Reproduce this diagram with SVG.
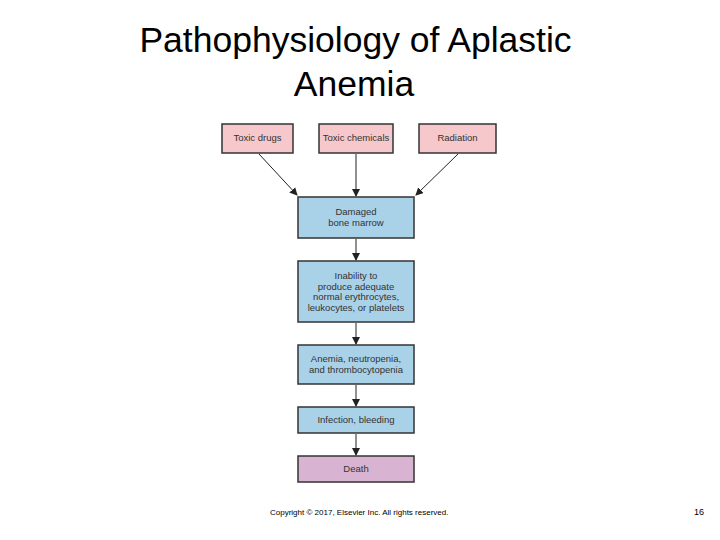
<svg xmlns="http://www.w3.org/2000/svg" width="720" height="540" viewBox="0 0 720 540">
<style>
.t{font-family:"Liberation Sans",Arial,sans-serif;fill:#000}
.title{font-size:35.5px;text-anchor:middle}
.bx{stroke:#333;stroke-width:1.5}
.pink{fill:#f6c8cb}
.blue{fill:#a9d1e8}
.mauve{fill:#d8b4d2}
.lbl{font-family:"Liberation Sans",Arial,sans-serif;font-size:9.5px;fill:#333;text-anchor:middle}
.c{stroke:#222;stroke-width:1;fill:none;marker-end:url(#ah)}
</style>
<defs>
<marker id="ah" markerWidth="8" markerHeight="8" refX="7" refY="4" orient="auto" markerUnits="userSpaceOnUse">
<path d="M0,0 L8,4 L0,8 Z" fill="#222"/>
</marker>
</defs>
<rect width="720" height="540" fill="#fff"/>
<text class="t title" x="355.500" y="52">Pathophysiology of Aplastic</text>
<text class="t title" x="354" y="96">Anemia</text>
<g id="connectors">
<line class="c" x1="259" y1="154" x2="297" y2="195"/>
<line class="c" x1="356" y1="154" x2="356" y2="196"/>
<line class="c" x1="458" y1="154" x2="416" y2="195"/>
<line class="c" x1="356" y1="239" x2="356" y2="260"/>
<line class="c" x1="356" y1="323" x2="356" y2="344"/>
<line class="c" x1="356" y1="385" x2="356" y2="406"/>
<line class="c" x1="356" y1="434" x2="356" y2="455"/>
</g>
<g id="toxic-drugs"><rect class="bx pink" x="222" y="124" width="71" height="29"/><text class="lbl" x="257.500" y="141">Toxic drugs</text></g>
<g id="toxic-chemicals"><rect class="bx pink" x="319" y="124" width="74" height="29"/><text class="lbl" x="356" y="141">Toxic chemicals</text></g>
<g id="radiation"><rect class="bx pink" x="419" y="124" width="77" height="29"/><text class="lbl" x="457.500" y="141">Radiation</text></g>
<g id="damaged"><rect class="bx blue" x="298" y="197" width="116" height="41"/><text class="lbl" x="356" y="215">Damaged</text><text class="lbl" x="356" y="226">bone marrow</text></g>
<g id="inability"><rect class="bx blue" x="298" y="261" width="116" height="61"/><text class="lbl" x="356" y="279">Inability to</text><text class="lbl" x="356" y="290">produce adequate</text><text class="lbl" x="356" y="300">normal erythrocytes,</text><text class="lbl" x="356" y="311">leukocytes, or platelets</text></g>
<g id="anemia"><rect class="bx blue" x="298" y="345" width="116" height="39"/><text class="lbl" x="356" y="362">Anemia, neutropenia,</text><text class="lbl" x="356" y="373">and thrombocytopenia</text></g>
<g id="infection"><rect class="bx blue" x="298" y="407" width="116" height="26"/><text class="lbl" x="356" y="423">Infection, bleeding</text></g>
<g id="death"><rect class="bx mauve" x="298" y="456" width="116" height="26"/><text class="lbl" x="356" y="472">Death</text></g>
<text class="t" x="270" y="515" font-size="8">Copyright © 2017, Elsevier Inc. All rights reserved.</text>
<text class="t" x="694" y="515" font-size="9">16</text>
</svg>
